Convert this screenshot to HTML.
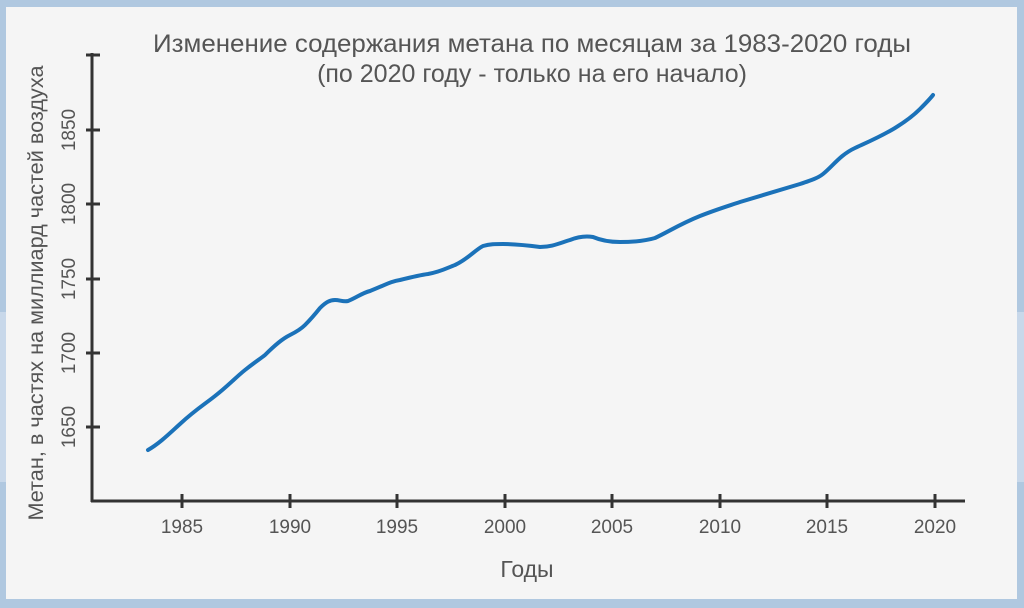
<!DOCTYPE html>
<html><head><meta charset="utf-8"><style>
body{margin:0;background:#b0c8e0;}
svg{display:block}
text{font-family:"Liberation Sans","DejaVu Sans",sans-serif;fill:#555}
</style></head><body>
<svg width="1024" height="608" viewBox="0 0 1024 608">
<rect x="0" y="0" width="1024" height="608" fill="#b0c8e0"/>
<rect x="0" y="312" width="1024" height="170" fill="#c8d8ea"/>
<rect x="6" y="7" width="1011" height="592" fill="#f5f5f5"/>
<text x="532" y="52" font-size="25" text-anchor="middle" textLength="758" lengthAdjust="spacingAndGlyphs">Изменение содержания метана по месяцам за 1983-2020 годы</text>
<text x="532" y="82" font-size="25" text-anchor="middle">(по 2020 году - только на его начало)</text>
<g stroke="#333" stroke-width="3" fill="none">
<line x1="92" y1="53" x2="92" y2="502"/>
<line x1="91" y1="501" x2="965" y2="501"/>
<line x1="86" y1="55" x2="100" y2="55"/>
<line x1="86" y1="130" x2="100" y2="130"/>
<line x1="86" y1="204" x2="100" y2="204"/>
<line x1="86" y1="279" x2="100" y2="279"/>
<line x1="86" y1="353" x2="100" y2="353"/>
<line x1="86" y1="427" x2="100" y2="427"/>
<line x1="182" y1="494" x2="182" y2="508"/>
<line x1="290" y1="494" x2="290" y2="508"/>
<line x1="397" y1="494" x2="397" y2="508"/>
<line x1="505" y1="494" x2="505" y2="508"/>
<line x1="612" y1="494" x2="612" y2="508"/>
<line x1="720" y1="494" x2="720" y2="508"/>
<line x1="827" y1="494" x2="827" y2="508"/>
<line x1="935" y1="494" x2="935" y2="508"/>
</g>
<g font-size="19" text-anchor="middle">
<text x="182" y="533">1985</text><text x="290" y="533">1990</text><text x="397" y="533">1995</text><text x="505" y="533">2000</text>
<text x="612" y="533">2005</text><text x="720" y="533">2010</text><text x="827" y="533">2015</text><text x="935" y="533">2020</text>
<text transform="translate(75,130) rotate(-90)">1850</text>
<text transform="translate(75,204) rotate(-90)">1800</text>
<text transform="translate(75,279) rotate(-90)">1750</text>
<text transform="translate(75,353) rotate(-90)">1700</text>
<text transform="translate(75,427) rotate(-90)">1650</text>
</g>
<text x="527" y="577" font-size="23" text-anchor="middle">Годы</text>
<text transform="translate(43,293) rotate(-90)" font-size="21" text-anchor="middle" textLength="455" lengthAdjust="spacingAndGlyphs">Метан, в частях на миллиард частей воздуха</text>
<path fill="none" stroke="#1b72b9" stroke-width="4" stroke-linejoin="round" stroke-linecap="round"
d="M148,450 C160,443 170,433 180,424 C195,410 205,404 215,396 C228,386 235,378 245,370 C255,362 260,359 265,355 C275,345 282,339 290,335 C298,331 302,328 305,325 C312,318 316,313 320,308 C326,302 330,300 335,300 C340,300 343,302 348,301 C356,298 362,293 370,291 C385,285 392,281 400,280 C412,277 420,275 428,274 C440,272 447,268 455,265 C468,259 475,250 483,246 C490,244 495,244 503,244 C515,244 525,245 540,247 C552,247 560,243 570,240 C580,236 587,236 593,237 C600,240 610,242 620,242 C635,242 645,241 655,238 C668,232 680,224 700,216 C715,210 725,207 740,202 C760,196 780,190 800,184 C812,180 818,178 823,174 C833,166 840,155 855,148 C868,142 880,137 895,128 C908,120 915,114 920,109 C926,103 930,99 933,95"/>
</svg>
</body></html>
